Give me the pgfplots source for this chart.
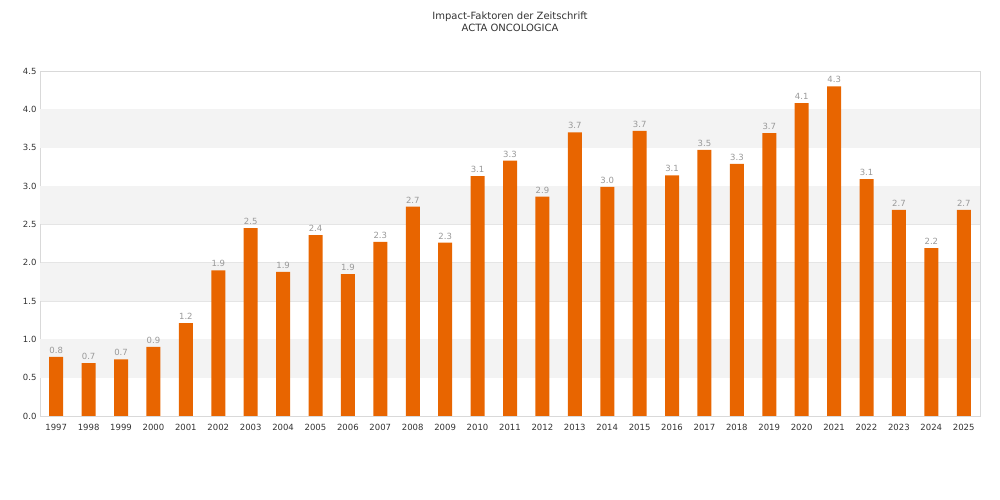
\documentclass[border=0pt]{standalone}
\usepackage{pgfplots}
\pgfplotsset{compat=1.18}
\usepackage{fontspec}
\setmainfont{DejaVu Sans}
\definecolor{bar}{HTML}{E86500}
\definecolor{band}{HTML}{F3F3F3}
\definecolor{lab}{HTML}{999999}
\definecolor{tk}{HTML}{333333}
\begin{document}
\begin{tikzpicture}
\begin{axis}[
  scale only axis, width=940pt, height=345pt,
  xmin=1996.5, xmax=2025.5, ymin=0, ymax=4.5,
  xtick={1997,...,2025}, ytick={0,0.5,...,4.5},
  xticklabel style={/pgf/number format/1000 sep=, font=\fontsize{8.5}{10}\selectfont, text=tk},
  yticklabel style={/pgf/number format/fixed, /pgf/number format/fixed zerofill, /pgf/number format/precision=1, font=\fontsize{8.5}{10}\selectfont, text=tk},
  /pgf/number format/assume math mode=true,
  tick style={draw=none},
  axis line style={draw=black!15},
  ymajorgrids, grid style={draw=black!10},
  axis on top=false,
  ybar, bar width=14pt,
  nodes near coords,
  every node near coord/.append style={font=\fontsize{8.5}{10}\selectfont, text=lab, /pgf/number format/fixed, /pgf/number format/fixed zerofill, /pgf/number format/precision=1},
  title style={align=center, font=\fontsize{10}{12}\selectfont, text=tk, at={(0.5,1)}, yshift=30pt},
  title={Impact-Faktoren der Zeitschrift\\ACTA ONCOLOGICA},
]
\fill[band] (axis cs:1996.5,0.5) rectangle (axis cs:2025.5,1.0);
\fill[band] (axis cs:1996.5,1.5) rectangle (axis cs:2025.5,2.0);
\fill[band] (axis cs:1996.5,2.5) rectangle (axis cs:2025.5,3.0);
\fill[band] (axis cs:1996.5,3.5) rectangle (axis cs:2025.5,4.0);
\addplot[fill=bar, draw=none] coordinates {
(1997,0.77)(1998,0.69)(1999,0.74)(2000,0.90)(2001,1.21)(2002,1.90)(2003,2.45)
(2004,1.88)(2005,2.36)(2006,1.85)(2007,2.27)(2008,2.73)(2009,2.26)(2010,3.13)
(2011,3.33)(2012,2.86)(2013,3.70)(2014,2.99)(2015,3.72)(2016,3.14)(2017,3.47)
(2018,3.29)(2019,3.69)(2020,4.08)(2021,4.30)(2022,3.09)(2023,2.69)(2024,2.19)(2025,2.69)};
\end{axis}
\path[use as bounding box] (-40pt,-84pt) rectangle (960pt,416pt);
\end{tikzpicture}
\end{document}
